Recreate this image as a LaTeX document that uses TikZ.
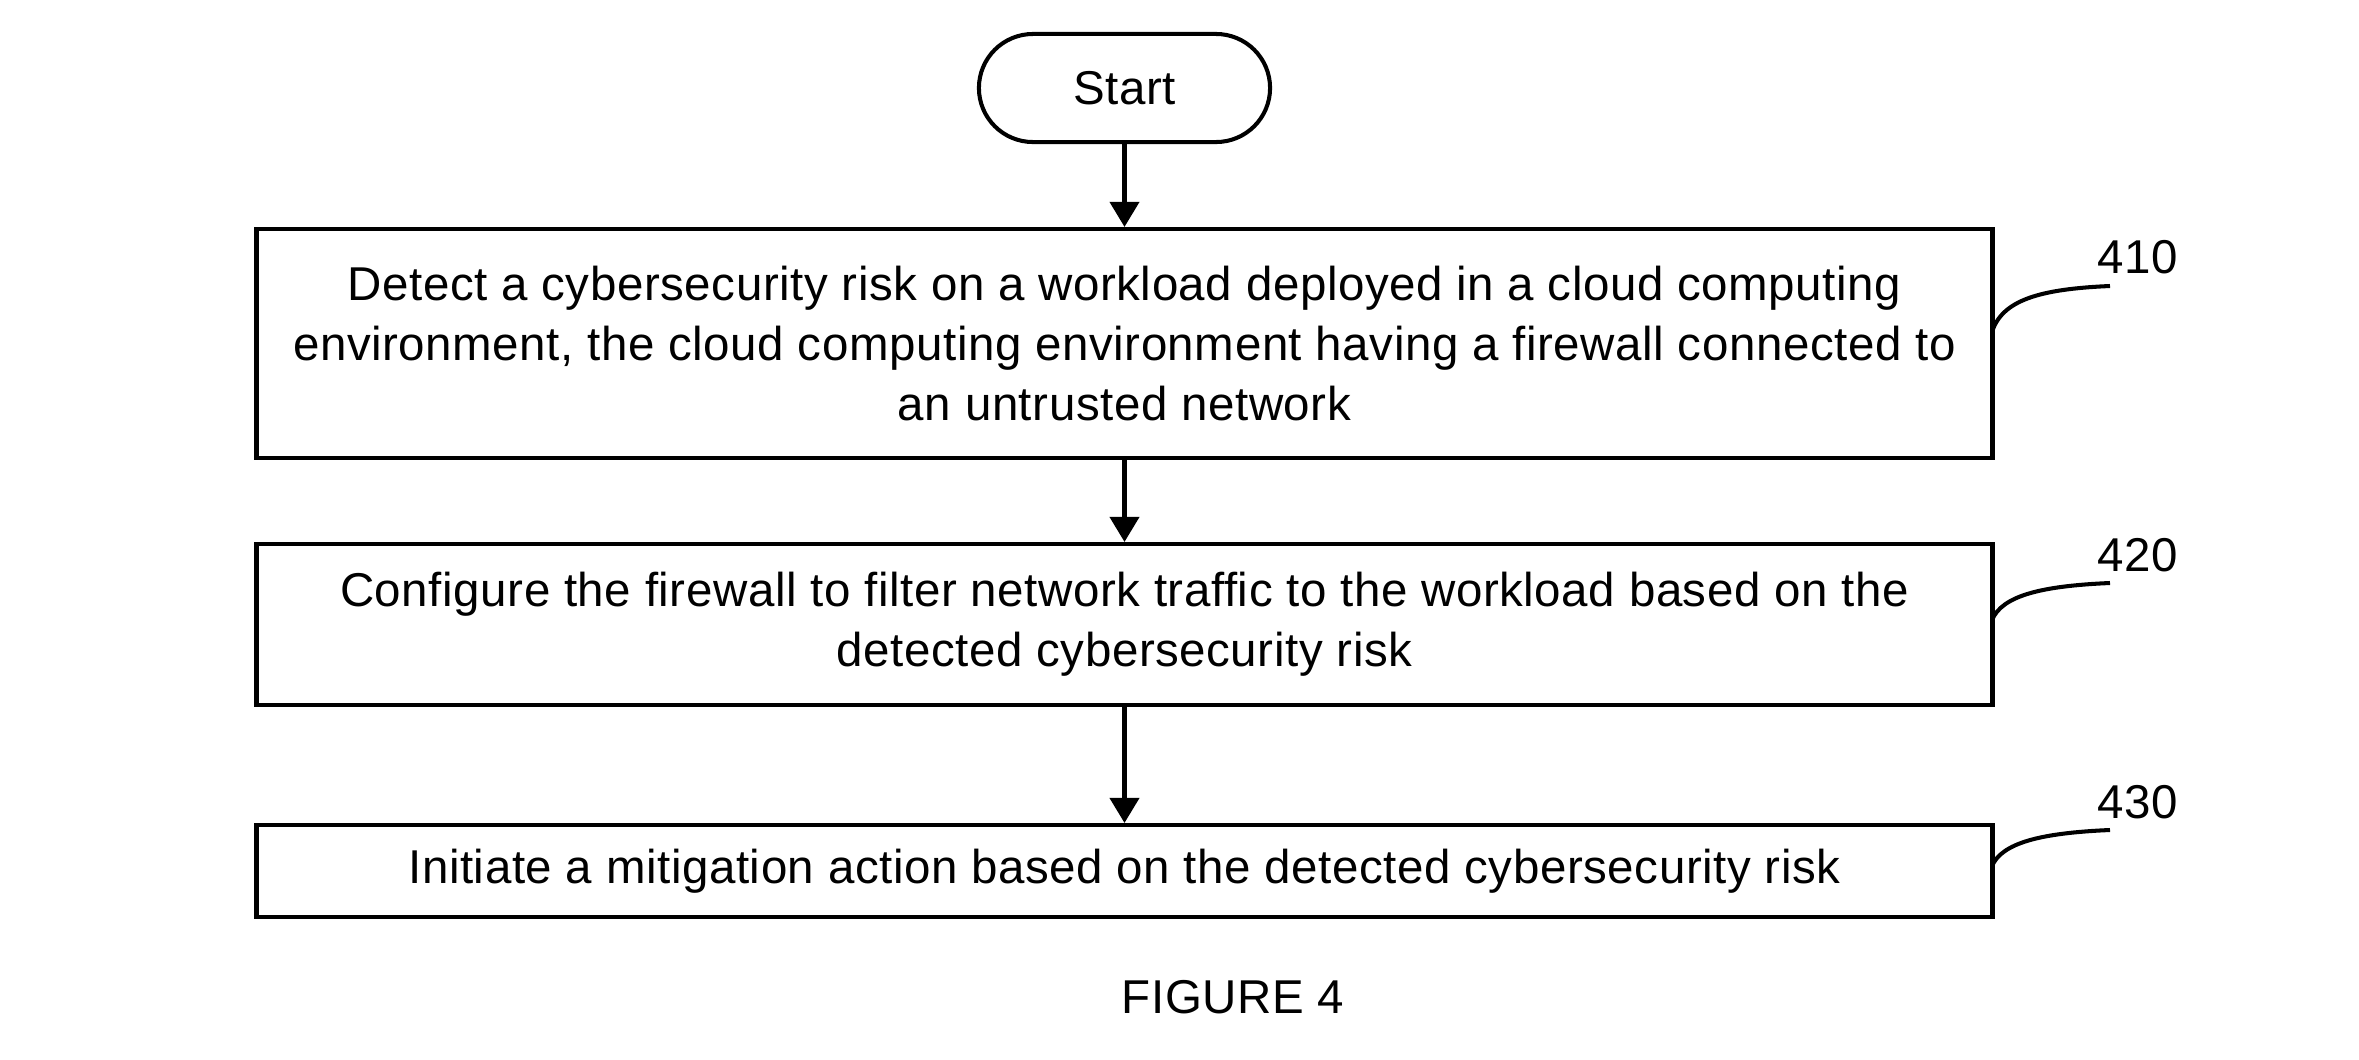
\documentclass[tikz,border=0pt]{standalone}
\usepackage{fontspec}
\setmainfont{Liberation Sans}[LetterSpace=1.2]
\usetikzlibrary{arrows.meta}
\begin{document}
\begin{tikzpicture}[x=0.01cm,y=-0.01cm,
  every node/.style={font=\fontsize{13.5}{17.1}\selectfont},
  stepbox/.style={draw,line width=1.15pt,rectangle,align=center,inner sep=0pt,minimum width=17.35cm},
  startbox/.style={draw,line width=1.15pt,rectangle,rounded corners=0.54cm,minimum width=2.91cm,minimum height=1.08cm,inner sep=0pt},
  flow/.style={line width=1.15pt,-{Triangle[length=0.25cm,width=0.29cm]}},
  leader/.style={line width=1.15pt},
  reflabel/.style={inner sep=0pt}]
\useasboundingbox (0,0) rectangle (2359,1060);
\node[startbox] (start) at (1124.5,88) {Start};
\node[stepbox,minimum height=2.29cm] (b1) at (1124.5,343.5) {Detect a cybersecurity risk on a workload deployed in a cloud computing\\environment, the cloud computing environment having a firewall connected to\\an untrusted network};
\node[stepbox,minimum height=1.61cm] (b2) at (1124.5,624.5) {Configure the firewall to filter network traffic to the workload based on the\\detected cybersecurity risk};
\node[stepbox,minimum height=0.92cm] (b3) at (1124.5,871) {Initiate a mitigation action based on the detected cybersecurity risk};
\draw[flow] (start) -- (b1);
\draw[flow] (b1) -- (b2);
\draw[flow] (b2) -- (b3);
\node[reflabel] (l1) at (2138,257) {410};
\node[reflabel] (l2) at (2138,555) {420};
\node[reflabel] (l3) at (2138,802) {430};
\coordinate (s1) at (1992,332);
\coordinate (e1) at (2110,286);
\coordinate (s2) at (1992,620);
\coordinate (e2) at (2110,583);
\coordinate (s3) at (1992,866);
\coordinate (e3) at (2110,830);
\draw[leader] (s1) .. controls (2002,300) and (2040,289) .. (e1);
\draw[leader] (s2) .. controls (2002,596) and (2040,586) .. (e2);
\draw[leader] (s3) .. controls (2002,843) and (2040,833) .. (e3);
\node (fig) at (1233,997) {FIGURE 4};
\end{tikzpicture}
\end{document}
